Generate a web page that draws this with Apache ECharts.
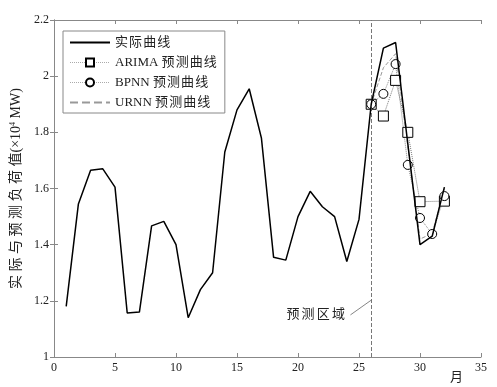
<!DOCTYPE html>
<html><head><meta charset="utf-8">
<script src="https://cdn.jsdelivr.net/npm/echarts@6/dist/echarts.min.js"></script>
<style>html,body{margin:0;padding:0;background:#fff}#c{width:497px;height:387px}</style>
</head><body><div id="c"></div>
<script>
var months = [1,2,3,4,5,6,7,8,9,10,11,12,13,14,15,16,17,18,19,20,21,22,23,24,25,26,27,28,29,30,31,32];
var actual = [1.18,1.545,1.665,1.67,1.605,1.157,1.16,1.467,1.483,1.40,1.14,1.24,1.30,1.73,1.88,1.955,1.78,1.355,1.345,1.50,1.59,1.535,1.50,1.34,1.49,1.90,2.10,2.12,1.76,1.40,1.43,1.605];
var predMonths = [26,27,28,29,30,31,32];
var arima = [1.90,1.858,1.985,1.80,1.553,null,1.555];
var bpnn = [1.90,1.937,2.043,1.684,1.495,1.438,1.573];
var urnn = [1.90,2.03,2.08,1.75,1.42,1.44,1.60];
var xTicks = {min:0,max:35,interval:5};
var yTicks = {min:1,max:2.2,interval:0.2};
var xName = '月';
var FONT = 'Liberation Serif, "Noto Sans CJK SC", serif';

function pairs(xs, ys){ var r=[]; for(var i=0;i<xs.length;i++){ if(ys[i]!==null) r.push([xs[i],ys[i]]);} return r; }
function spaced(s, sp){ return s.split('').join(sp); }

var chart = echarts.init(document.getElementById('c'));
var axisLine = {show:true,lineStyle:{color:'#888',width:1}};
var tick = {show:true,inside:true,length:4,lineStyle:{color:'#888'}};
chart.setOption({
  animation:false,
  backgroundColor:'#fff',
  grid:{left:54,right:16,top:20,bottom:30,containLabel:false},
  legend:{
    orient:'vertical', left:63, top:31, width:150,
    padding:[5,8,4,6], itemGap:7, itemWidth:40, itemHeight:10,
    borderColor:'#888', borderWidth:1, backgroundColor:'#fff',
    textStyle:{fontFamily:FONT,fontSize:13,color:'#222'},
    data:[
      {name:'实际曲线', itemStyle:{opacity:0}},
      {name:'ARIMA 预测曲线', lineStyle:{color:'#aaa',width:1}},
      {name:'BPNN 预测曲线', lineStyle:{color:'#aaa',width:1}},
      {name:'URNN 预测曲线', itemStyle:{opacity:0}}
    ],
    formatter:function(n){ return n.replace(/([\u4e00-\u9fff])(?=[\u4e00-\u9fff])/g,'$1\u200a'); }
  },
  xAxis:[{
    type:'value', min:xTicks.min, max:xTicks.max, interval:xTicks.interval,
    axisLine:axisLine, axisTick:tick, splitLine:{show:false},
    axisLabel:{fontFamily:FONT,fontSize:12,color:'#222',margin:5}
  },{
    type:'value', position:'top', min:xTicks.min, max:xTicks.max, interval:xTicks.interval,
    axisLine:axisLine, axisTick:tick, axisLabel:{show:false}, splitLine:{show:false}
  }],
  yAxis:[{
    type:'value', min:yTicks.min, max:yTicks.max, interval:yTicks.interval,
    axisLine:axisLine, axisTick:tick, splitLine:{show:false},
    axisLabel:{fontFamily:FONT,fontSize:12,color:'#222',margin:5},
    name:spaced('实际与预测负荷值','\u2005')+'(×10{sup|4} MW)', nameLocation:'middle', nameRotate:90, nameGap:31,
    nameTextStyle:{fontFamily:FONT,fontSize:14,color:'#222',rich:{sup:{fontFamily:FONT,fontSize:8,verticalAlign:'top',padding:[0,0,6,0]}}}
  },{
    type:'value', position:'right', min:yTicks.min, max:yTicks.max, interval:yTicks.interval,
    axisLine:axisLine, axisTick:tick, axisLabel:{show:false}, splitLine:{show:false}
  }],
  series:[
    {name:'实际曲线', type:'line', data:pairs(months,actual), symbol:'none',
     lineStyle:{color:'#000',width:1.5}, itemStyle:{color:'#000'}, z:5,
     markLine:{silent:true, symbol:'none', animation:false,
       data:[
         {xAxis:26, lineStyle:{type:'dashed',color:'#777',width:1}, label:{show:false}},
         [{coord:[24.3,1.15], lineStyle:{type:'solid',color:'#666',width:0.8}, label:{show:false}},{coord:[26.02,1.203]}]
       ]},
     markPoint:{silent:true, symbol:'circle', symbolSize:0,
       data:[{coord:[21.45,1.15], label:{show:true, formatter:'预\u2006测\u2006区\u2006域', fontFamily:FONT, fontSize:13, color:'#222', position:'inside'}}]}
    },
    {name:'ARIMA 预测曲线', type:'line', data:pairs(predMonths,arima), symbol:'rect', symbolSize:10,
     lineStyle:{color:'#777',width:1,type:'dotted'}, itemStyle:{color:'#fff',borderColor:'#000',borderWidth:1}, z:4},
    {name:'BPNN 预测曲线', type:'line', data:pairs(predMonths,bpnn), symbol:'circle', symbolSize:9,
     lineStyle:{color:'#888',width:1,type:'dotted'}, itemStyle:{color:'#fff',borderColor:'#000',borderWidth:1}, z:4},
    {name:'URNN 预测曲线', type:'line', data:pairs(predMonths,urnn), symbol:'none',
     lineStyle:{color:'#999',width:1,type:'dashed'}, itemStyle:{color:'#777'}, z:3}
  ]
});
var px = chart.convertToPixel({xAxisIndex:0}, 33);
var py = chart.convertToPixel({yAxisIndex:0}, yTicks.min);
chart.setOption({graphic:[{type:'text', x:px, y:py+21, style:{text:xName, fontFamily:FONT, fontSize:13, fill:'#222', align:'center', verticalAlign:'middle'}}]});
</script>
</body></html>
